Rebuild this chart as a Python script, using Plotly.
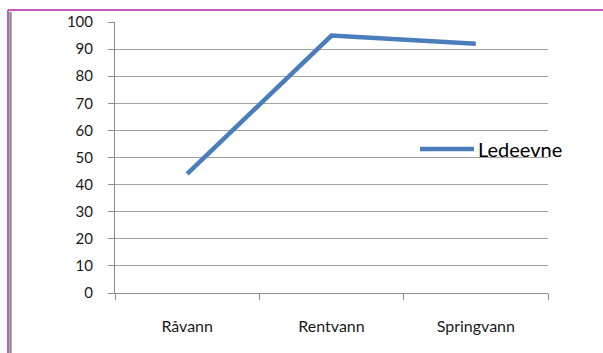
import plotly.graph_objects as go

categories = ["Råvann", "Rentvann", "Springvann"]
ledeevne = [44, 95, 92]
series_name = "Ledeevne"
y_ticks = list(range(0, 101, 10))

W, H = 603, 353
L, R, T, B = 115, 55, 22, 60
pw, ph = W - L - R, H - T - B


def px_x(x):
    return (x - L) / pw


def px_y(y):
    return (H - B - y) / ph


fig = go.Figure()
fig.add_trace(go.Scatter(
    x=categories, y=ledeevne, mode="lines", name=series_name,
    line=dict(color="#4A7EBB", width=4.5), showlegend=False,
))

font = "Lato, 'Liberation Sans', sans-serif"

shapes = [
    # frame lines around the chart area
    dict(type="line", xref="paper", yref="paper", x0=px_x(8), x1=px_x(603), y0=px_y(10), y1=px_y(10),
         line=dict(color="#C35BC3", width=2)),
    dict(type="line", xref="paper", yref="paper", x0=px_x(8), x1=px_x(8), y0=px_y(10), y1=px_y(353),
         line=dict(color="#C35BC3", width=2)),
    dict(type="line", xref="paper", yref="paper", x0=px_x(10.5), x1=px_x(10.5), y0=px_y(12), y1=px_y(353),
         line=dict(color="#909090", width=2.5)),
    # legend swatch
    dict(type="line", xref="paper", yref="paper", x0=px_x(420), x1=px_x(474), y0=px_y(149), y1=px_y(149),
         line=dict(color="#4A7EBB", width=4.5)),
]

annotations = [
    dict(text=series_name, xref="paper", yref="paper", x=px_x(476), y=px_y(149),
         xanchor="left", yanchor="middle", showarrow=False,
         font=dict(family=font, size=20, color="#000000")),
]

fig.update_layout(
    width=W, height=H,
    margin=dict(l=L, r=R, t=T, b=B),
    paper_bgcolor="white", plot_bgcolor="white",
    shapes=shapes, annotations=annotations,
    showlegend=False,
    xaxis=dict(
        type="category", range=[-0.5, 2.5], showgrid=False, zeroline=False,
        showline=True, linecolor="#8C8C8C", linewidth=1,
        ticks="outside", tickson="boundaries", ticklen=6, tickcolor="#8C8C8C",
        ticklabelstandoff=19,
        tickfont=dict(family=font, size=16, color="#1A1A1A"),
    ),
    yaxis=dict(
        range=[0, 100], tickvals=y_ticks, showgrid=True, gridcolor="#A0A0A0", gridwidth=1,
        zeroline=False, showline=True, linecolor="#8C8C8C", linewidth=1,
        ticks="outside", ticklen=6, tickcolor="#8C8C8C",
        ticklabelstandoff=12,
        tickfont=dict(family=font, size=15, color="#1A1A1A"),
    ),
)

fig.write_html("out.html")
